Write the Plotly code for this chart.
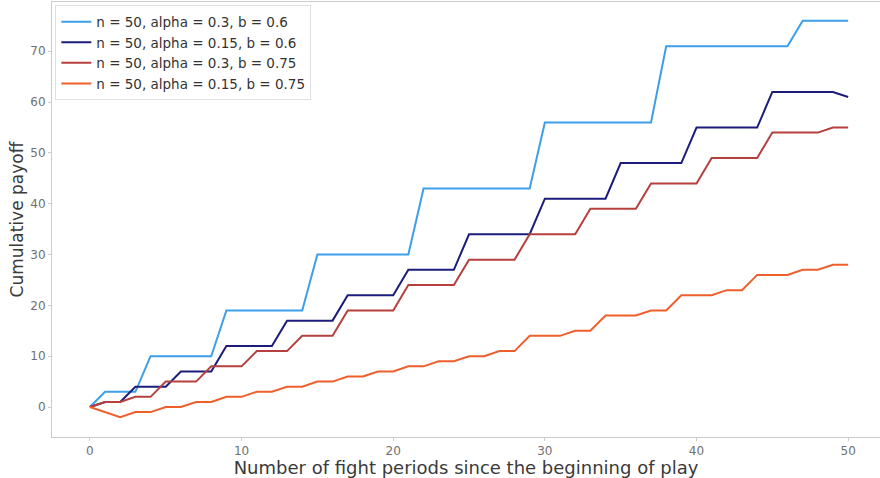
import plotly.graph_objects as go

# Fight periods 0..50
periods = list(range(0, 51))

# Cumulative payoff per configuration
payoff_a03_b060 = [0, 3, 3, 3, 10, 10, 10, 10, 10, 19,
                   19, 19, 19, 19, 19, 30, 30, 30, 30, 30,
                   30, 30, 43, 43, 43, 43, 43, 43, 43, 43,
                   56, 56, 56, 56, 56, 56, 56, 56, 71, 71,
                   71, 71, 71, 71, 71, 71, 71, 76, 76, 76, 76]
payoff_a015_b060 = [0, 1, 1, 4, 4, 4, 7, 7, 7, 12,
                    12, 12, 12, 17, 17, 17, 17, 22, 22, 22,
                    22, 27, 27, 27, 27, 34, 34, 34, 34, 34,
                    41, 41, 41, 41, 41, 48, 48, 48, 48, 48,
                    55, 55, 55, 55, 55, 62, 62, 62, 62, 62, 61]
payoff_a03_b075 = [0, 1, 1, 2, 2, 5, 5, 5, 8, 8,
                   8, 11, 11, 11, 14, 14, 14, 19, 19, 19,
                   19, 24, 24, 24, 24, 29, 29, 29, 29, 34,
                   34, 34, 34, 39, 39, 39, 39, 44, 44, 44,
                   44, 49, 49, 49, 49, 54, 54, 54, 54, 55, 55]
payoff_a015_b075 = [0, -1, -2, -1, -1, 0, 0, 1, 1, 2,
                    2, 3, 3, 4, 4, 5, 5, 6, 6, 7,
                    7, 8, 8, 9, 9, 10, 10, 11, 11, 14,
                    14, 14, 15, 15, 18, 18, 18, 19, 19, 22,
                    22, 22, 23, 23, 26, 26, 26, 27, 27, 28, 28]

series_names = [
    "n = 50, alpha = 0.3, b = 0.6",
    "n = 50, alpha = 0.15, b = 0.6",
    "n = 50, alpha = 0.3, b = 0.75",
    "n = 50, alpha = 0.15, b = 0.75",
]
series_values = [payoff_a03_b060, payoff_a015_b060, payoff_a03_b075, payoff_a015_b075]
series_colors = ["#3d9ee9", "#1c1c7c", "#b5403d", "#ef5f2c"]

y_ticks = [0, 10, 20, 30, 40, 50, 60, 70]
x_ticks = [0, 10, 20, 30, 40, 50]

fig = go.Figure()
for name, vals, col in zip(series_names, series_values, series_colors):
    fig.add_trace(go.Scatter(
        x=periods, y=vals, mode="lines", name=name,
        line=dict(color=col, width=2),
    ))

axis_font = dict(family="DejaVu Sans", size=12, color="#707070")
fig.update_layout(
    width=880, height=478,
    margin=dict(l=52, r=0, t=2, b=41),
    paper_bgcolor="white", plot_bgcolor="white",
    font=dict(family="DejaVu Sans", color="#333333"),
    showlegend=True,
    legend=dict(
        x=0.004, y=0.992, xanchor="left", yanchor="top",
        bgcolor="white", bordercolor="#e0e0e0", borderwidth=1,
        font=dict(family="DejaVu Sans", size=13.5, color="#333333"),
    ),
    xaxis=dict(
        range=[-2.5, 52.1], tickvals=x_ticks, showgrid=False, zeroline=False,
        showline=True, linecolor="#cccccc", linewidth=1, mirror=True,
        ticks="outside", ticklen=3, tickcolor="#cccccc", tickfont=axis_font,
        title=dict(text="Number of fight periods since the beginning of play",
                   font=dict(family="DejaVu Sans", size=18, color="#3a3a3a"),
                   standoff=3),
    ),
    yaxis=dict(
        range=[-5.9, 79.7], tickvals=y_ticks, showgrid=False, zeroline=False,
        showline=True, linecolor="#cccccc", linewidth=1, mirror=False,
        ticks="outside", ticklen=3, tickcolor="#cccccc", tickfont=axis_font,
        title=dict(text="Cumulative payoff",
                   font=dict(family="DejaVu Sans", size=17, color="#3a3a3a"),
                   standoff=2),
    ),
)

fig.write_html("out.html")
